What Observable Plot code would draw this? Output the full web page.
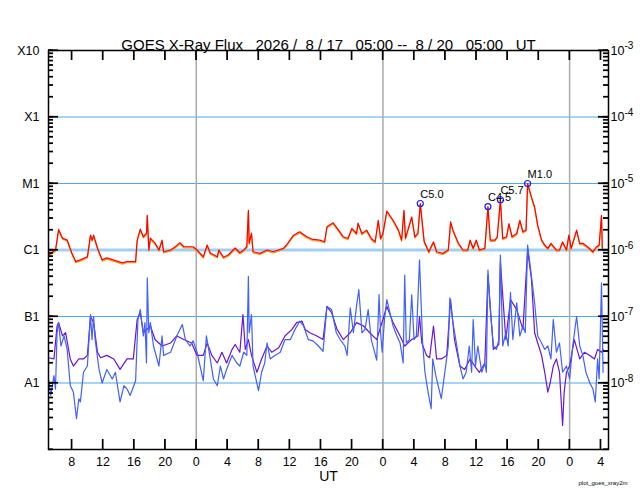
<!DOCTYPE html>
<html>
<head>
<meta charset="utf-8">
<script src="https://cdn.jsdelivr.net/npm/d3@7"></script>
<script src="https://cdn.jsdelivr.net/npm/@observablehq/plot@0.6"></script>
<style>
  html, body { margin: 0; padding: 0; background: #fff; }
  svg text { white-space: pre; }
</style>
</head>
<body>
<div id="chart"></div>
<script>
// ---- Data (time in hours since 2026-08-17 00:00 UT, flux in W/m^2) ----
const titleText = "GOES X-Ray Flux   2026 /  8 / 17   05:00 --  8 / 20   05:00   UT";
const decades = [1e-3, 1e-4, 1e-5, 1e-6, 1e-7, 1e-8];
const leftLabels = ["X10", "X1", "M1", "C1", "B1", "A1"];
const rightExponents = ["-3", "-4", "-5", "-6", "-7", "-8"];
const hourTicks = [8, 12, 16, 20, 24, 28, 32, 36, 40, 44, 48, 52, 56, 60, 64, 68, 72, 76];
const dayBoundaries = [24, 48, 72];
const gridLevels = [1e-4, 1e-5, 1e-7, 1e-8];
const c1Level = [1e-6];

const flareTime = [52.8, 61.5, 63.1, 66.6];
const flareFlux = [5.0e-6, 4.5e-6, 5.7e-6, 1.0e-5];
const flareLabel = ["C5.0", "C4.5", "C5.7", "M1.0"];

// long channel (1-8 A), primary
const xrsLong = [
[5.0,0.84e-6],[5.9,1.0e-6],[6.3,2.04e-6],[6.8,1.51e-6],[7.4,1.41e-6],[8.0,0.90e-6],[8.5,0.67e-6],[9.1,0.71e-6],
[10.0,0.79e-6],[10.4,1.67e-6],[10.6,1.41e-6],[10.8,1.67e-6],[11.3,1.07e-6],[11.9,0.71e-6],[12.5,0.76e-6],[13.3,0.71e-6],
[14.5,0.64e-6],[15.1,0.67e-6],[16.2,0.67e-6],[16.4,1.41e-6],[16.8,2.06e-6],[17.2,1.58e-6],[17.6,1.79e-6],[17.7,3.33e-6],
[17.9,1.0e-6],[18.1,1.51e-6],[18.7,1.27e-6],[19.2,1.0e-6],[19.6,1.41e-6],[19.8,0.94e-6],[20.7,1.0e-6],[21.3,1.12e-6],
[21.9,1.29e-6],[22.4,1.12e-6],[23.6,1.12e-6],[24.1,1.0e-6],[24.9,0.79e-6],[25.4,1.19e-6],[25.8,0.90e-6],[26.7,0.79e-6],
[26.9,1.0e-6],[27.5,0.78e-6],[28.1,0.84e-6],[29.0,1.07e-6],[29.6,0.91e-6],[30.1,1.0e-6],[30.5,1.12e-6],[30.7,3.96e-6],
[30.8,1.27e-6],[31.1,1.79e-6],[31.3,0.94e-6],[32.2,0.89e-6],[33.1,1.0e-6],[33.9,0.94e-6],[35.2,1.06e-6],[35.6,1.19e-6],
[36.5,1.67e-6],[37.3,1.88e-6],[38.2,1.58e-6],[39.0,1.44e-6],[39.9,1.41e-6],[40.5,1.33e-6],[40.8,2.23e-6],[41.6,2.56e-6],
[42.3,1.99e-6],[42.9,1.58e-6],[43.5,1.49e-6],[44.0,2.11e-6],[44.6,1.77e-6],[44.8,2.53e-6],[45.3,1.77e-6],[45.9,1.99e-6],
[46.5,1.49e-6],[47.0,1.33e-6],[47.4,2.80e-6],[47.7,1.49e-6],[48.0,1.77e-6],[48.5,3.86e-6],[49.3,2.80e-6],[50.0,1.99e-6],
[50.4,1.41e-6],[50.7,3.96e-6],[50.9,1.51e-6],[51.7,3.14e-6],[52.1,1.58e-6],[52.5,1.79e-6],[52.8,5.0e-6],[53.3,1.35e-6],
[53.9,0.94e-6],[54.5,1.33e-6],[54.9,0.94e-6],[55.7,0.89e-6],[56.4,1.0e-6],[56.7,2.64e-6],[57.0,1.99e-6],[57.7,1.26e-6],
[58.3,1.0e-6],[58.9,1.0e-6],[59.2,1.41e-6],[59.6,1.06e-6],[60.0,1.41e-6],[60.4,1.0e-6],[61.1,1.06e-6],[61.5,4.5e-6],
[61.8,1.41e-6],[62.4,1.41e-6],[62.7,1.58e-6],[63.1,5.7e-6],[63.4,1.49e-6],[63.9,1.58e-6],[64.2,2.50e-6],[64.6,1.58e-6],
[65.2,1.77e-6],[65.6,2.80e-6],[66.0,1.88e-6],[66.4,1.99e-6],[66.6,1.0e-5],[67.1,6.25e-6],[67.5,4.43e-6],[67.9,2.36e-6],
[68.4,1.41e-6],[68.8,1.19e-6],[69.2,1.06e-6],[69.6,1.26e-6],[70.3,1.0e-6],[70.7,1.0e-6],[71.1,1.33e-6],[71.6,1.0e-6],
[71.9,1.67e-6],[72.2,1.06e-6],[72.9,1.99e-6],[73.3,1.26e-6],[73.7,1.26e-6],[74.3,1.12e-6],[75.0,0.94e-6],[75.4,1.10e-6],
[75.8,1.19e-6],[76.1,3.33e-6],[76.2,1.06e-6]
];

// short channel (0.5-4 A), primary (blue)
const xrsShort = [
[5.0,1.15e-8],[5.3,6.5e-9],[5.7,1.29e-8],[5.9,8.1e-9],[6.1,5.7e-8],[6.3,8.1e-8],[6.6,3.6e-8],[7.0,5.1e-8],
[7.4,3.2e-8],[7.8,9.1e-9],[8.2,7.3e-9],[8.6,2.9e-9],[8.9,5.8e-9],[9.1,5.2e-9],[9.5,1.45e-8],[10.0,1.8e-8],
[10.4,1.07e-7],[10.6,4.5e-8],[10.8,1.0e-7],[11.0,4.5e-8],[11.5,1.6e-8],[11.9,1.0e-8],[12.5,1.6e-8],[13.2,1.15e-8],
[13.6,1.45e-8],[14.2,5.2e-9],[14.7,9.1e-9],[15.1,8.1e-9],[15.5,6.5e-9],[16.2,1.08e-8],[16.5,9.0e-8],[16.8,1.27e-7],
[17.2,5.1e-8],[17.4,8.1e-8],[17.6,2.0e-8],[17.7,3.8e-7],[17.9,5.7e-8],[18.1,8.1e-8],[18.5,3.6e-8],[19.2,1.8e-8],
[19.6,5.1e-8],[19.8,2.6e-8],[20.7,2.9e-8],[21.5,5.1e-8],[22.2,7.6e-8],[22.6,4.5e-8],[23.2,3.6e-8],[23.6,4.3e-8],
[24.1,2.9e-8],[24.9,1.08e-8],[25.3,5.1e-8],[25.8,2.3e-8],[26.2,1.15e-8],[26.7,9.1e-9],[27.1,1.8e-8],[27.5,1.15e-8],
[27.9,1.6e-8],[28.6,2.6e-8],[29.2,2.0e-8],[29.6,1.8e-8],[30.1,2.9e-8],[30.5,2.6e-8],[30.7,4.0e-7],[30.8,5.7e-8],
[31.1,1.07e-7],[31.3,1.8e-8],[32.0,7.7e-9],[32.4,1.45e-8],[32.8,2.0e-8],[33.1,4.0e-8],[33.5,2.3e-8],[34.1,2.6e-8],
[34.8,2.9e-8],[35.4,4.5e-8],[36.1,4.5e-8],[36.7,6.4e-8],[37.3,8.5e-8],[37.8,7.2e-8],[38.4,4.5e-8],[39.0,4.3e-8],
[39.7,3.6e-8],[40.3,3.0e-8],[40.8,1.42e-7],[41.4,1.27e-7],[42.0,5.7e-8],[42.5,4.5e-8],[43.1,3.6e-8],[43.4,2.6e-8],
[43.8,1.35e-7],[44.2,5.7e-8],[44.6,1.42e-7],[44.9,2.53e-7],[45.3,5.7e-8],[45.7,6.4e-8],[46.1,1.27e-7],[46.5,4.5e-8],
[47.0,2.7e-8],[47.2,2.2e-8],[47.5,2.13e-7],[47.7,5.7e-8],[47.9,2.9e-8],[48.2,9.0e-8],[48.5,1.79e-7],[48.9,1.14e-7],
[49.3,7.2e-8],[49.8,5.1e-8],[50.2,4.0e-8],[50.6,2.0e-8],[50.8,4.2e-7],[51.0,4.0e-8],[51.4,4.5e-8],[51.7,2.13e-7],
[52.0,4.5e-8],[52.3,5.1e-8],[52.7,7.1e-7],[53.1,4.0e-8],[53.4,1.45e-8],[53.8,7.3e-9],[54.2,4.1e-9],[54.4,2.3e-8],
[54.8,1.29e-8],[55.1,9.1e-9],[55.5,5.8e-9],[55.9,1.29e-8],[56.4,3.6e-8],[56.6,1.9e-7],[57.0,8.1e-8],[57.5,3.6e-8],
[57.9,1.8e-8],[58.3,1.15e-8],[58.7,1.45e-8],[59.1,3.6e-8],[59.4,1.45e-8],[59.6,9.0e-8],[59.9,1.8e-8],[60.2,3.6e-8],
[60.7,1.45e-8],[61.1,2.0e-8],[61.3,1.45e-8],[61.5,5.0e-7],[61.8,1.27e-7],[62.2,3.6e-8],[62.6,3.2e-8],[62.9,4.5e-8],
[63.1,8.4e-7],[63.4,3.6e-8],[63.8,5.7e-8],[64.1,3.6e-8],[64.4,2.3e-7],[64.7,4.5e-8],[65.2,1.6e-7],[65.6,5.1e-8],
[66.0,7.2e-8],[66.3,5.7e-8],[66.6,1.19e-6],[67.1,4.0e-7],[67.5,1.6e-7],[67.9,5.1e-8],[68.4,4.0e-8],[68.8,3.2e-8],
[69.2,3.6e-8],[69.6,2.3e-8],[69.9,9.0e-8],[70.3,2.9e-8],[70.7,4.0e-8],[71.1,1.45e-8],[71.6,1.8e-8],[72.0,1.15e-8],
[72.4,3.6e-8],[72.9,1.0e-7],[73.3,3.6e-8],[73.7,2.6e-8],[74.1,1.45e-8],[74.6,1.0e-8],[75.0,8.1e-9],[75.3,5.2e-9],
[75.6,2.3e-8],[75.8,1.15e-8],[76.1,3.2e-7],[76.3,1.45e-8]
];

// short channel (0.5-4 A), secondary (purple)
const xrsShort2 = [
[5.0,2.4e-8],[5.7,2.3e-8],[6.1,7.2e-8],[6.3,8.1e-8],[6.8,5.1e-8],[7.2,5.7e-8],[7.8,2.3e-8],[8.2,1.8e-8],
[8.9,2.3e-8],[9.5,2.3e-8],[10.0,2.6e-8],[10.4,1.0e-7],[10.8,8.1e-8],[11.3,2.9e-8],[11.7,2.4e-8],[12.5,2.6e-8],
[13.4,2.3e-8],[14.2,1.6e-8],[15.1,2.3e-8],[15.9,2.3e-8],[16.4,9.0e-8],[16.8,1.14e-7],[17.2,5.7e-8],[18.1,7.2e-8],
[18.7,4.5e-8],[19.6,3.6e-8],[20.7,4.0e-8],[21.5,5.1e-8],[22.4,4.5e-8],[23.4,4.0e-8],[24.1,2.6e-8],[24.9,2.6e-8],
[25.4,4.0e-8],[26.0,2.6e-8],[26.7,2.0e-8],[27.3,2.9e-8],[27.9,2.0e-8],[28.6,3.2e-8],[29.0,3.8e-8],[29.6,2.9e-8],
[30.0,1.07e-7],[30.3,3.2e-8],[30.7,4.5e-8],[31.1,2.6e-8],[31.8,1.45e-8],[32.4,2.3e-8],[33.1,3.6e-8],[33.7,2.9e-8],
[34.6,3.4e-8],[35.4,5.1e-8],[36.3,6.4e-8],[36.9,8.1e-8],[37.6,8.5e-8],[38.0,6.4e-8],[38.6,5.7e-8],[39.5,5.1e-8],
[40.3,4.5e-8],[40.8,1.42e-7],[41.4,1.14e-7],[42.1,6.4e-8],[42.9,4.5e-8],[43.8,5.7e-8],[44.6,8.1e-8],[45.5,7.2e-8],
[46.3,5.7e-8],[47.2,4.5e-8],[48.0,9.0e-8],[48.5,1.42e-7],[49.3,8.1e-8],[50.2,5.1e-8],[50.8,3.6e-8],[51.7,4.5e-8],
[52.5,5.1e-8],[52.7,1.0e-7],[53.0,4.0e-8],[53.6,2.6e-8],[54.0,2.4e-8],[54.5,7.2e-8],[54.9,2.3e-8],[55.5,2.3e-8],
[56.2,2.6e-8],[56.7,1.79e-7],[57.2,4.5e-8],[57.9,1.8e-8],[58.5,1.6e-8],[59.2,2.3e-8],[59.8,1.8e-8],[60.4,1.45e-8],
[61.1,2.0e-8],[61.5,4.2e-7],[62.2,3.2e-8],[62.9,3.8e-8],[63.1,6.6e-7],[63.8,4.5e-8],[64.4,1.79e-7],[65.2,1.27e-7],
[66.0,6.4e-8],[66.6,1.0e-6],[67.1,3.6e-7],[67.5,5.7e-8],[67.9,4.0e-8],[68.4,2.6e-8],[68.8,1.45e-8],[69.2,7.3e-9],
[69.5,1.0e-8],[69.9,1.8e-8],[70.3,2.3e-8],[70.7,1.45e-8],[71.1,2.3e-9],[71.3,7.3e-9],[71.6,1.45e-8],[72.0,1.8e-8],
[72.6,4.5e-8],[73.3,2.3e-8],[73.9,2.9e-8],[74.6,2.6e-8],[75.2,2.3e-8],[75.6,3.2e-8],[76.1,2.9e-8],[76.3,3.2e-8]
];

// ---- Chart ----
const flares = flareTime.map((t, i) => ({t, f: flareFlux[i], label: flareLabel[i]}));
const T = d => d[0], F = d => d[1];
const yDomain = [1e-9, 1e-3];
// minor log ticks (1..9 per decade) from d3's own log tick generator
const minorTicks = d3.scaleLog().domain(yDomain).ticks();

const W = 640, H = 500, mT = 50, mB = 51, mL = 48, mR = 32;
const innerW = W - mL - mR, innerH = H - mT - mB;
const majorLen = 10, minorLen = 5;

const plot = Plot.plot({
  width: W,
  height: H,
  marginTop: mT,
  marginBottom: mB,
  marginLeft: mL,
  marginRight: mR,
  style: {fontFamily: "'Liberation Sans', Arial, Helvetica, sans-serif", fontSize: "12px", color: "#000", background: "#fff", overflow: "visible"},
  x: {domain: [5, 77], axis: null},
  y: {type: "log", domain: yDomain, axis: null},
  marks: [
    Plot.ruleY(gridLevels, {stroke: "#4aa9ef", strokeWidth: 1}),
    Plot.ruleY(c1Level, {stroke: "#9fd0f3", strokeWidth: 3}),
    Plot.ruleX(dayBoundaries, {stroke: "#aaaaaa", strokeWidth: 1.5}),
    Plot.line(xrsLong, {x: T, y: F, stroke: "#ff9a1a", strokeWidth: 1.2, dy: 1.2}),
    Plot.line(xrsLong, {x: T, y: F, stroke: "#ff0000", strokeWidth: 1.2}),
    Plot.line(xrsShort2, {x: T, y: F, stroke: "#6a14d0", strokeWidth: 1.2}),
    Plot.line(xrsShort, {x: T, y: F, stroke: "#4060ff", strokeWidth: 1.2}),
    Plot.dot(flares, {x: "t", y: "f", r: 3, stroke: "#1a1aff", strokeWidth: 1.2, fill: "none"}),
    Plot.text(flares, {x: "t", y: "f", text: "label", textAnchor: "start", lineAnchor: "bottom", dy: -6, fontSize: 11}),
    // inward ticks (tick marks confined to the frame edge with insets)
    Plot.tickY(minorTicks, {y: d => d, insetRight: innerW - minorLen, stroke: "#000", strokeWidth: 1.2}),
    Plot.tickY(decades, {y: d => d, insetRight: innerW - majorLen, stroke: "#000", strokeWidth: 1.2}),
    Plot.tickY(minorTicks, {y: d => d, insetLeft: innerW - minorLen, stroke: "#000", strokeWidth: 1.2}),
    Plot.tickY(decades, {y: d => d, insetLeft: innerW - majorLen, stroke: "#000", strokeWidth: 1.2}),
    Plot.tickX(hourTicks, {x: d => d, insetTop: innerH - majorLen, stroke: "#000", strokeWidth: 1.2}),
    Plot.tickX(hourTicks, {x: d => d, insetBottom: innerH - majorLen, stroke: "#000", strokeWidth: 1.2}),
    // labels
    Plot.axisY(decades, {anchor: "left", tickSize: 0, tickPadding: 9, fontSize: 12.5,
      tickFormat: d => leftLabels[decades.indexOf(d)], label: null}),
    Plot.axisY(decades, {anchor: "right", tickSize: 0, tickPadding: 2, fontSize: 12.5, textAnchor: "start",
      tickFormat: () => "10", className: "exp-axis", label: null}),
    Plot.axisX(hourTicks, {anchor: "bottom", tickSize: 0, tickPadding: 8, fontSize: 12.5,
      tickFormat: d => String(d % 24), label: null}),
    Plot.frame({stroke: "#000", strokeWidth: 1.5}),
    Plot.text([titleText], {frameAnchor: "top", dy: -11, fontSize: 15}),
    Plot.text(["UT"], {frameAnchor: "bottom", dy: 31, fontSize: 14}),
    Plot.text(["plot_goes_xray2m"], {frameAnchor: "bottom-right", dx: 19, dy: 35, textAnchor: "end", fontSize: 6})
  ]
});

// superscript exponents on the right-hand labels
d3.select(plot).selectAll("g.exp-axis text").each(function(i) {
  const t = d3.select(this);
  t.text("10");
  t.append("tspan").attr("dy", "-0.55em").attr("font-size", "0.8em").text(rightExponents[i]);
});

// same inward ticks again, positioned with the plot's own scales (SVG namespace)
const svgEl = plot.tagName.toLowerCase() === "svg" ? plot : plot.querySelector("svg");
const sx = plot.scale("x"), sy = plot.scale("y");
const xL = mL, xR = W - mR, yT = mT, yB = H - mB;
const g = d3.select(svgEl).append("svg:g").attr("stroke", "#000").attr("stroke-width", 1.2);
function hTick(v, len) {
  const y = sy.apply(v);
  g.append("svg:line").attr("x1", xL).attr("x2", xL + len).attr("y1", y).attr("y2", y);
  g.append("svg:line").attr("x1", xR).attr("x2", xR - len).attr("y1", y).attr("y2", y);
}
minorTicks.forEach(v => hTick(v, minorLen));
decades.forEach(v => hTick(v, majorLen));
hourTicks.forEach(v => {
  const x = sx.apply(v);
  g.append("svg:line").attr("x1", x).attr("x2", x).attr("y1", yB).attr("y2", yB - majorLen);
  g.append("svg:line").attr("x1", x).attr("x2", x).attr("y1", yT).attr("y2", yT + majorLen);
});

document.getElementById("chart").appendChild(plot);
</script>
</body>
</html>
